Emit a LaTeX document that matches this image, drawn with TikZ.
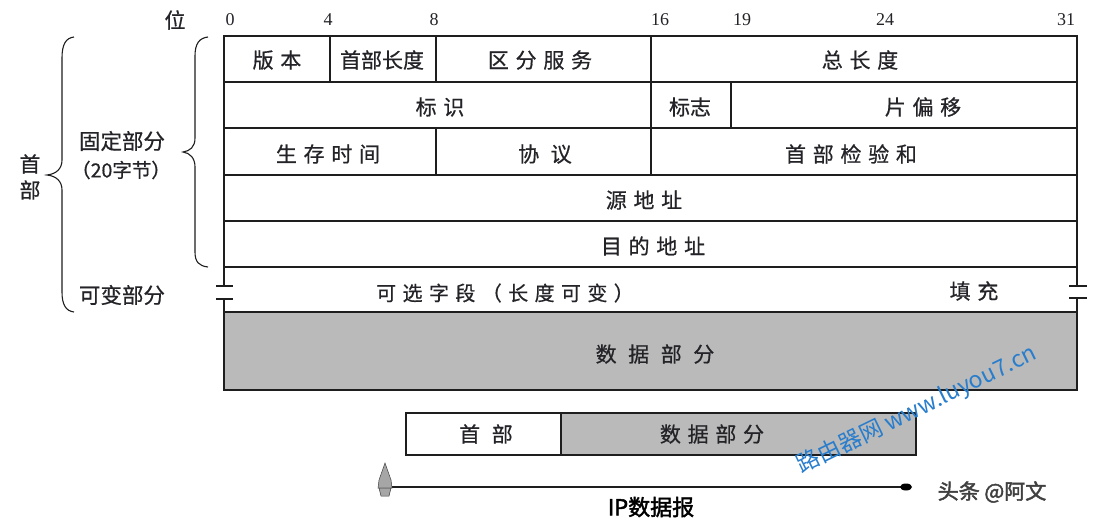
\documentclass[tikz,border=0pt]{standalone}
\usepackage{fontspec}
\setmainfont{Liberation Serif}
\newfontfamily\cjkn[FakeBold=0.6]{Noto Sans CJK SC}
\newfontfamily\cjka[LetterSpace=32,FakeBold=0.6]{Noto Sans CJK SC}
\newfontfamily\cjkw[LetterSpace=55,FakeBold=0.6]{Noto Sans CJK SC}
\newfontfamily\cjkb[FakeBold=2]{Noto Sans CJK SC}
\newfontfamily\cjkm{Noto Sans CJK SC}
\definecolor{linec}{RGB}{30,30,30}
\definecolor{txtc}{RGB}{35,35,40}
\definecolor{datagray}{RGB}{186,186,186}
\definecolor{wmblue}{RGB}{40,125,205}
\begin{document}
\begin{tikzpicture}[x=1pt,y=-1pt,
  cell/.style={draw=linec,line width=1.3pt},
  grayc/.style={draw=linec,line width=1.3pt,fill=datagray},
  lbl/.style={text=txtc,inner sep=0pt,font=\cjka\fontsize{21}{21}\selectfont},
  lbln/.style={text=txtc,inner sep=0pt,font=\cjkn\fontsize{21}{21}\selectfont},
  lblw/.style={text=txtc,inner sep=0pt,font=\cjkw\fontsize{21}{21}\selectfont},
  bitl/.style={text=txtc,inner sep=0pt,font=\fontsize{18}{18}\selectfont},
  bracec/.style={draw=linec,line width=1.1pt},
  brk/.style={draw=linec,line width=1.3pt}]
\useasboundingbox (0,0) rectangle (1100,530);
\fill[white] (0,0) rectangle (1100,530);

% bit labels
\node[lbln] (wei) at (175,20) {位};
\node[bitl] (b0) at (230,20) {0};
\node[bitl] (b4) at (328,20) {4};
\node[bitl] (b8) at (434,20) {8};
\node[bitl] (b16) at (660,20) {16};
\node[bitl] (b19) at (742,20) {19};
\node[bitl] (b24) at (885,20) {24};
\node[bitl] (b31) at (1066,20) {31};

% row 1
\draw[cell] (224,36) rectangle (330,82);
\draw[cell] (330,36) rectangle (436,82);
\draw[cell] (436,36) rectangle (651,82);
\draw[cell] (651,36) rectangle (1077,82);
\node[lbl] (ver) at (277,60) {版本};
\node[lbln] (hlen) at (382,60) {首部长度};
\node[lbl] (tos) at (540,60) {区分服务};
\node[lbl] (tlen) at (860,60) {总长度};
% row 2
\draw[cell] (224,82) rectangle (651,128);
\draw[cell] (651,82) rectangle (731,128);
\draw[cell] (731,82) rectangle (1077,128);
\node[lbl] (ident) at (440,107) {标识};
\node[lbln] (flag) at (690,107) {标志};
\node[lbl] (frag) at (923,107) {片偏移};
% row 3
\draw[cell] (224,128) rectangle (436,175);
\draw[cell] (436,128) rectangle (651,175);
\draw[cell] (651,128) rectangle (1077,175);
\node[lbl] (ttl) at (328,154) {生存时间};
\node[lblw] (proto) at (545,154) {协议};
\node[lbl] (csum) at (851,154) {首部检验和};
% row 4,5
\draw[cell] (224,175) rectangle (1077,221);
\node[lbl] (src) at (644,200) {源地址};
\draw[cell] (224,221) rectangle (1077,267);
\node[lbl] (dst) at (653,246) {目的地址};
% row 6 (variable)
\draw[cell] (224,267) -- (1077,267);
\draw[cell] (224,312) -- (1077,312);
\draw[brk] (224,267) -- (224,286);
\draw[brk] (224,299) -- (224,312);
\draw[brk] (216,286) -- (233,286);
\draw[brk] (216,299) -- (233,299);
\draw[brk] (1077,267) -- (1077,286);
\draw[brk] (1077,298) -- (1077,312);
\draw[brk] (1069,286) -- (1087,286);
\draw[brk] (1069,298) -- (1087,298);
\node[lbl,font=\cjka\fontsize{20}{20}\selectfont] (opt) at (505,293) {可选字段（长度可变）};
\node[lbl] (pad) at (974,291) {填充};
% data
\draw[grayc] (224,312) rectangle (1077,390);
\node[lblw] (data) at (655,354) {数据部分};

% braces
\draw[bracec] (208,37) .. controls (199,38) and (195,44) .. (195,56) -- (195,138)
  .. controls (195,147) and (190,151) .. (183,152)
  .. controls (190,153) and (195,158) .. (195,167) -- (195,252)
  .. controls (195,262) and (199,266) .. (208,267);
\draw[bracec] (74,37) .. controls (66,38) and (62,44) .. (62,58) -- (62,160)
  .. controls (62,169) and (56,174) .. (47,175)
  .. controls (56,176) and (62,181) .. (62,190) -- (62,292)
  .. controls (62,305) and (66,311) .. (74,312);
\node[lbln,font=\cjkn\fontsize{21.5}{21.5}\selectfont] (fix) at (122,141) {固定部分};
\node[lbln,font=\cjkn\fontsize{19.5}{19.5}\selectfont] (b20) at (121,170) {（20字节）};
\node[lbln,font=\cjkn\fontsize{21.5}{21.5}\selectfont] (var) at (122,295) {可变部分};
\node[lbln,font=\cjkn\fontsize{21}{21}\selectfont] (hd1) at (30,164) {首};
\node[lbln,font=\cjkn\fontsize{21}{21}\selectfont] (hd2) at (30,190) {部};

% bottom datagram
\draw[cell] (406,413) rectangle (561,455);
\draw[grayc] (561,413) rectangle (916,455);
\node[lblw] (shd) at (486,434) {首部};
\node[lbl] (sdata) at (712,434) {数据部分};
\coordinate (aL) at (385,487);
\coordinate (aR) at (906,487);
\draw[linec,line width=1.4pt] (aL) -- (aR);
\fill[gray!70,draw=gray!50!black,line width=0.5pt] (385,463) -- (391,480) -- (392,488) -- (378,488) -- (379,480) -- cycle;
\fill[gray!70,draw=gray!50!black,line width=0.5pt] (379,488) -- (391,488) -- (389,496) -- (381,496) -- cycle;
\fill[black] (aR) ellipse [x radius=6pt, y radius=3.5pt];
\node[inner sep=0pt,text=black,font=\cjkb\fontsize{22}{22}\selectfont] (ipd) at (651,507) {IP数据报};

% watermarks
\node[inner sep=0pt,text=wmblue,rotate=26,font=\cjkm\fontsize{23}{23}\selectfont] (wm) at (917,410) {路由器网 www.luyou7.cn};
\node[inner sep=0pt,text=black!75,font=\cjkb\fontsize{21}{21}\selectfont] (tt) at (992,492) {头条 @阿文};
\end{tikzpicture}
\end{document}
